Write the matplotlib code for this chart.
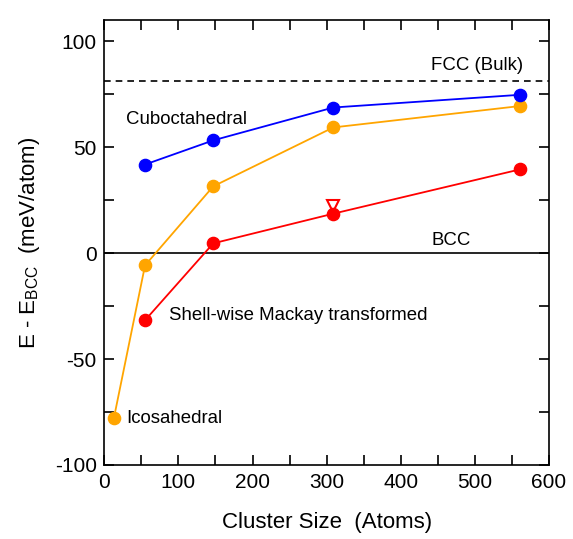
import matplotlib
matplotlib.use("Agg")
import matplotlib.pyplot as plt
from matplotlib.ticker import MultipleLocator

plt.rcParams['font.family'] = ['Liberation Sans', 'DejaVu Sans']
plt.rcParams['axes.unicode_minus'] = False

cubo_x = [55, 147, 309, 561]
cubo_y = [41.8, 53.2, 68.7, 74.7]
ico_x = [13, 55, 147, 309, 561]
ico_y = [-77.8, -5.8, 31.5, 59.3, 69.4]
mackay_x = [55, 147, 309, 561]
mackay_y = [-31.7, 4.6, 18.6, 39.5]
tri_x = [309]
tri_y = [22]
fcc_bulk = 81
bcc_ref = 0

fig = plt.figure(figsize=(5.73, 5.39), dpi=100)
ax = fig.add_axes([0.182, 0.1373, 0.958 - 0.182, 0.9629 - 0.1373])

ax.axhline(fcc_bulk, color='black', ls=(0, (4, 3)), lw=1.2)
ax.axhline(bcc_ref, color='black', lw=1.2)

ms = 8.8
ax.plot(ico_x, ico_y, color='#FFA500', lw=1.3, marker='o', ms=ms, mec='#FFA500', zorder=3)
ax.plot(mackay_x, mackay_y, color='#FF0000', lw=1.3, marker='o', ms=ms, zorder=4)
ax.plot(cubo_x, cubo_y, color='#0000FF', lw=1.3, marker='o', ms=ms, zorder=5)
ax.plot(tri_x, tri_y, ls='none', marker='v', ms=8, mfc='none', mec='#FF0000', mew=1.5, zorder=6)

ax.set_xlim(0, 600)
ax.set_ylim(-100, 110)
ax.xaxis.set_major_locator(MultipleLocator(100))
ax.xaxis.set_minor_locator(MultipleLocator(50))
ax.yaxis.set_major_locator(MultipleLocator(50))
ax.yaxis.set_minor_locator(MultipleLocator(25))
ax.tick_params(which='both', direction='in', top=True, right=True, labelsize=15, width=1.2, length=7.5)
ax.tick_params(axis='x', pad=6)
ax.tick_params(axis='y', pad=5.5)
for s in ax.spines.values():
    s.set_linewidth(1.2)

ax.set_xlabel('Cluster Size  (Atoms)', fontsize=16, labelpad=14)
ax.set_ylabel(r'E - E$_{\mathregular{BCC}}$  (meV/atom)', fontsize=16, labelpad=9)

fs = 13.4
ax.text(441, 88.5, 'FCC (Bulk)', fontsize=fs, va='center')
ax.text(29.3, 63, 'Cuboctahedral', fontsize=fs, va='center')
ax.text(441, 6, 'BCC', fontsize=fs, va='center')
ax.text(87.8, -29.4, 'Shell-wise Mackay transformed', fontsize=fs, va='center')
ax.text(30, -78, 'Icosahedral', fontsize=fs, va='center')

fig.savefig('out.png', dpi=100)
